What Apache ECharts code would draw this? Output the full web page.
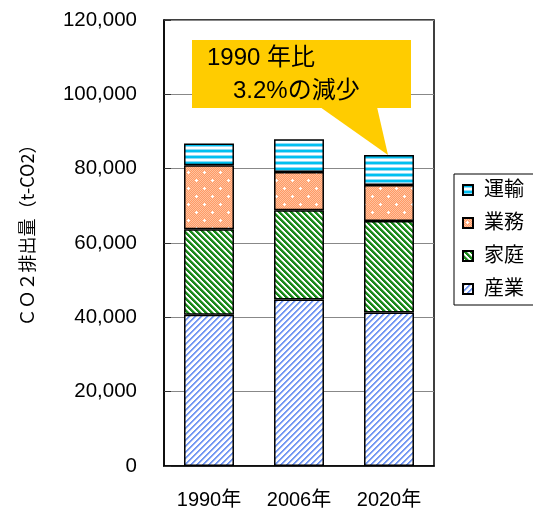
<!DOCTYPE html>
<html>
<head>
<meta charset="utf-8">
<script src="https://cdn.jsdelivr.net/npm/echarts@6/dist/echarts.min.js"></script>
<style>
  html, body { margin: 0; padding: 0; background: #fff; }
  #chart { width: 533px; height: 511px; }
</style>
</head>
<body>
<div id="chart"></div>
<script>
// data (t-CO2)
const categories = ['1990年', '2006年', '2020年'];
const industry  = [40700, 44800, 41300];   // 産業
const household = [23000, 24000, 24600];   // 家庭
const business  = [17200, 10300, 9700];    // 業務
const transport = [5900, 8800, 8100];      // 運輸
const legendNames = ['運輸', '業務', '家庭', '産業'];
const calloutLines = ['1990 年比', '3.2%の減少'];

const FONT = '"Liberation Sans", Arial, "Noto Sans CJK JP", sans-serif';

function hex(c) {
  return [parseInt(c.slice(1, 3), 16), parseInt(c.slice(3, 5), 16), parseInt(c.slice(5, 7), 16)];
}

// pixel tile -> repeat pattern
function makePattern(w, h, paint) {
  const c = document.createElement('canvas');
  c.width = w; c.height = h;
  const ctx = c.getContext('2d');
  const img = ctx.createImageData(w, h);
  for (let y = 0; y < h; y++) {
    for (let x = 0; x < w; x++) {
      const rgb = hex(paint(x, y));
      const i = (y * w + x) * 4;
      img.data[i] = rgb[0]; img.data[i + 1] = rgb[1]; img.data[i + 2] = rgb[2]; img.data[i + 3] = 255;
    }
  }
  ctx.putImageData(img, 0, 0);
  return { image: c, repeat: 'repeat' };
}

const patIndustry = makePattern(6, 6, (x, y) => {
  const k = (x + y) % 6;
  return k < 2 ? '#7398f2' : (k === 2 ? '#c0d0fa' : '#ffffff');
});
const patHousehold = makePattern(6, 6, (x, y) => {
  const k = ((x - y) % 6 + 6) % 6;
  return k < 3 ? '#1a8a1a' : (k === 3 ? '#9cc99c' : '#ffffff');
});
const patBusiness = makePattern(16, 16, (x, y) => {
  const cross = (cx, cy) => (x === cx && Math.abs(y - cy) <= 1) || (y === cy && Math.abs(x - cx) <= 1);
  if (cross(4, 4) || cross(12, 12)) return '#ffffff';
  return (x + y) % 2 ? '#ff9a66' : '#ffc29e';
});
const patTransport = makePattern(6, 6, (x, y) => {
  return ['#00c0f0', '#00c0f0', '#8fdcf7', '#ffffff', '#ffffff', '#8fdcf7'][y];
});

const chart = echarts.init(document.getElementById('chart'));

const barStyle = (pat) => ({ color: pat, borderColor: '#000', borderWidth: 1.5 });

const series = [
  { name: '産業', data: industry, pat: patIndustry },
  { name: '家庭', data: household, pat: patHousehold },
  { name: '業務', data: business, pat: patBusiness },
  { name: '運輸', data: transport, pat: patTransport }
].map(s => ({
  name: s.name,
  type: 'bar',
  stack: 'total',
  barWidth: '55.5%',
  itemStyle: barStyle(s.pat),
  data: s.data
}));

chart.setOption({
  animation: false,
  backgroundColor: '#fff',
  grid: {
    left: 164, right: 99, top: 20, bottom: 45,
    show: true, borderColor: '#000', borderWidth: 1.5, backgroundColor: '#fff'
  },
  legend: {
    data: legendNames,
    orient: 'vertical',
    left: 454,
    top: 174,
    icon: 'rect',
    itemWidth: 10,
    itemHeight: 10,
    itemGap: 13,
    padding: [6, 40, 6, 8],
    borderColor: '#000',
    borderWidth: 1,
    textStyle: { fontSize: 20, color: '#000', fontFamily: FONT, lineHeight: 20, padding: [0, 0, 0, 6] }
  },
  xAxis: {
    type: 'category',
    data: categories,
    axisLine: { lineStyle: { color: '#000', width: 1.5 } },
    axisTick: { inside: true, length: 6, lineStyle: { color: '#000' } },
    axisLabel: { fontSize: 20, color: '#000', fontFamily: FONT, margin: 24 }
  },
  yAxis: {
    type: 'value',
    min: 0, max: 120000, interval: 20000,
    name: 'ＣＯ２排出量（t-CO2）',
    nameLocation: 'middle',
    nameGap: 128,
    nameRotate: 90,
    nameTextStyle: { fontSize: 18, color: '#000', fontFamily: '"Noto Sans CJK JP", sans-serif', padding: [0, 0, 0, 24] },
    axisLine: { show: true, lineStyle: { color: '#000', width: 1.5 } },
    axisTick: { show: true, inside: true, length: 7, lineStyle: { color: '#333' } },
    splitLine: { lineStyle: { color: '#888', width: 1 } },
    axisLabel: {
      fontSize: 20.5, color: '#000', fontFamily: FONT, margin: 27,
      formatter: v => v.toLocaleString('en-US')
    }
  },
  series
});

// callout pointing at the 2020 total
const total2020 = industry[2] + household[2] + business[2] + transport[2];
const tip = chart.convertToPixel({ xAxisIndex: 0, yAxisIndex: 0 }, [2, total2020]);
chart.setOption({
  graphic: [
    { type: 'rect', shape: { x: 192, y: 40, width: 219, height: 68 }, style: { fill: '#ffcc00' }, z: 100 },
    { type: 'polygon', shape: { points: [[320, 107], [377, 107], [tip[0] - 1, tip[1]]] }, style: { fill: '#ffcc00' }, z: 100 },
    { type: 'text', style: { text: calloutLines[0], x: 207, y: 58, fill: '#000', font: '24px ' + FONT, verticalAlign: 'middle' }, z: 101 },
    { type: 'text', style: { text: calloutLines[1], x: 233, y: 91, fill: '#000', font: '24px ' + FONT, verticalAlign: 'middle' }, z: 101 }
  ]
});
</script>
</body>
</html>
